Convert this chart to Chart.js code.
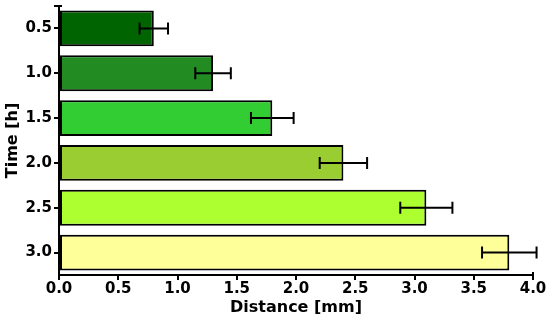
<!DOCTYPE html>
<html>
<head>
<meta charset="utf-8">
<script src="https://cdn.jsdelivr.net/npm/chart.js@4"></script>
<style>
  html, body { margin:0; padding:0; background:#fff; }
  #wrap { width:550px; height:320px; }
</style>
</head>
<body>
<div id="wrap"><canvas id="mychart"></canvas></div>
<script>
// data
const timeLabels = ['0.5','1.0','1.5','2.0','2.5','3.0'];
const distValues = [0.8, 1.3, 1.8, 2.4, 3.1, 3.8];
const distErrors = [0.12, 0.15, 0.18, 0.2, 0.22, 0.23];
const barColors  = ['#006400','#228B22','#32CD32','#9ACD32','#ADFF2F','#FFFF99'];

const FONT = 'DejaVu Sans';

// error bars + little cap on top of the y spine
const errorBarPlugin = 
{
  id: 'errorBars',
  afterDatasetsDraw(chart)
  {
    const ctx = chart.ctx;
    const xs = chart.scales.x;
    const meta = chart.getDatasetMeta(0);
    ctx.save();
    ctx.strokeStyle = '#000';
    ctx.lineWidth = 2;
    for(var i = 0; i < distValues.length; i++)
    {
      var bar = meta.data[i];
      var x1 = xs.getPixelForValue(distValues[i] - distErrors[i]);
      var x2 = xs.getPixelForValue(distValues[i] + distErrors[i]);
      var y = bar.y;
      ctx.beginPath();
      ctx.moveTo(x1, y); ctx.lineTo(x2, y);
      ctx.moveTo(x1, y - 6); ctx.lineTo(x1, y + 6);
      ctx.moveTo(x2, y - 6); ctx.lineTo(x2, y + 6);
      ctx.stroke();
    }
    const area = chart.chartArea;
    ctx.beginPath();
    ctx.moveTo(area.left - 5, area.top);
    ctx.lineTo(area.left + 3, area.top);
    ctx.moveTo(area.right, area.bottom - 3);
    ctx.lineTo(area.right, area.bottom + 5);
    ctx.stroke();
    ctx.restore();
  }
};

const config = 
{
  type: 'bar',
  data: 
  {
    labels: timeLabels,
    datasets: 
    [
      {
        data: distValues,
        backgroundColor: barColors,
        borderColor: '#000',
        borderWidth: 2,
        borderSkipped: false,
        barPercentage: 0.8,
        categoryPercentage: 1.0
      }
    ]
  },
  options: 
  {
    indexAxis: 'y',
    responsive: true,
    maintainAspectRatio: false,
    animation: false,
    layout: { padding: { top: 6, right: 17, bottom: 3, left: 3 } },
    plugins: 
    {
      legend: { display: false },
      tooltip: { enabled: false }
    },
    scales: 
    {
      x: 
      {
        min: 0,
        max: 4,
        afterFit: function(s) { s.height = 42; },
        border: { display: true, color: '#000', width: 2 },
        grid: 
        {
          drawOnChartArea: false,
          drawTicks: true,
          tickLength: 5,
          color: '#000',
          lineWidth: 2
        },
        ticks: 
        {
          stepSize: 0.5,
          color: '#000',
          padding: 0,
          maxRotation: 0,
          font: { family: FONT, size: 15, weight: 'bold' },
          callback: function(v) { return Number(v).toFixed(1); }
        },
        title: 
        {
          display: true,
          text: 'Distance [mm]',
          color: '#000',
          padding: 0,
          font: { family: FONT, size: 16, weight: 'bold' }
        }
      },
      y: 
      {
        offset: true,
        afterFit: function(s) { s.width = 56; },
        border: { display: true, color: '#000', width: 2 },
        grid: 
        {
          offset: false,
          drawOnChartArea: false,
          drawTicks: true,
          tickLength: 5,
          color: '#000',
          lineWidth: 2
        },
        ticks: 
        {
          color: '#000',
          padding: 2,
          // small line height so the labels don't push the plot area down
          font: { family: FONT, size: 15, weight: 'bold', lineHeight: 0.5 }
        },
        title: 
        {
          display: true,
          text: 'Time [h]',
          color: '#000',
          padding: 0,
          font: { family: FONT, size: 16, weight: 'bold' }
        }
      }
    }
  },
  plugins: [errorBarPlugin]
};

const barChart = new Chart(document.getElementById('mychart').getContext('2d'), config);
</script>
</body>
</html>
